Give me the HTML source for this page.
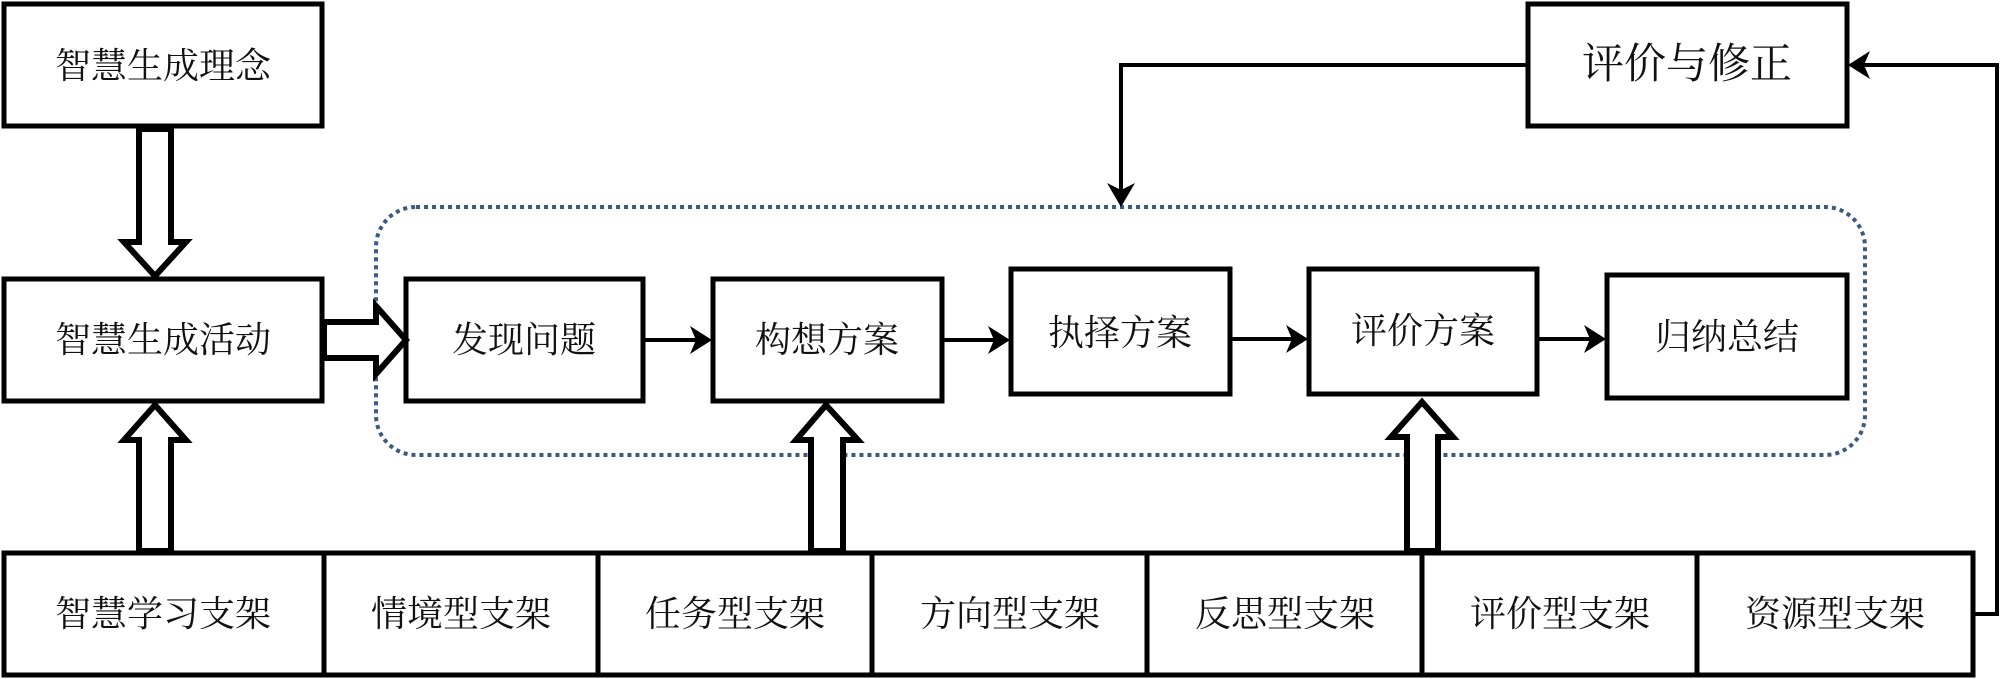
<!DOCTYPE html>
<html><head><meta charset="utf-8"><style>
html,body{margin:0;padding:0;background:#fff;}
svg{display:block;}
text{font-family:"Liberation Serif","Noto Serif CJK SC",serif;font-size:36px;fill:#111;text-anchor:middle;dominant-baseline:central;}
</style></head><body>
<svg width="2000" height="679" viewBox="0 0 2000 679">
<g fill="#fff" stroke="#000" stroke-width="5">
<rect x="4" y="4" width="318" height="122"/>
<rect x="4" y="279" width="318" height="122"/>
<rect x="406" y="279" width="237" height="122"/>
<rect x="713" y="279" width="229" height="122"/>
<rect x="1011" y="269" width="219" height="125"/>
<rect x="1309" y="269" width="228" height="125"/>
<rect x="1607" y="275" width="240" height="123"/>
<rect x="1528" y="4" width="319" height="122"/>
</g>
<rect x="376" y="207" width="1489" height="248" rx="40" fill="none" stroke="#3b5a80" stroke-width="4" stroke-dasharray="4 4"/>
<g fill="#fff" stroke="#000" stroke-width="5">
<rect x="4" y="553" width="1969" height="122"/>
<line x1="324" y1="553" x2="324" y2="675"/>
<line x1="598" y1="553" x2="598" y2="675"/>
<line x1="872" y1="553" x2="872" y2="675"/>
<line x1="1147" y1="553" x2="1147" y2="675"/>
<line x1="1422" y1="553" x2="1422" y2="675"/>
<line x1="1697" y1="553" x2="1697" y2="675"/>
</g>
<g fill="#fff" stroke="#000" stroke-width="6" stroke-linejoin="miter">
<polygon points="139,129 171,129 171,242 186,242 155,276 124,242 139,242"/>
<polygon points="139,551 171,551 171,440 186,440 155,405 124,440 139,440"/>
<polygon points="811,551 843,551 843,440 858,440 826,405 796,440 811,440"/>
<polygon points="1407,551 1438,551 1438,437 1453,437 1422,402 1391,437 1407,437"/>
<polygon points="324,322 376,322 376,306 406,340 376,374 376,358 324,358"/>
</g>
<g stroke="#000" stroke-width="4" fill="none">
<line x1="643" y1="340" x2="705" y2="340"/>
<line x1="942" y1="340" x2="1003" y2="340"/>
<line x1="1230" y1="339" x2="1301" y2="339"/>
<line x1="1537" y1="339" x2="1599" y2="339"/>
<polyline points="1973,614 1997,614 1997,65 1855,65"/>
<polyline points="1528,65 1121,65 1121,200"/>
</g>
<g fill="#000">
<polygon points="712,340 690,326 696,340 690,354"/>
<polygon points="1010,340 988,326 994,340 988,354"/>
<polygon points="1308,339 1286,325 1292,339 1286,353"/>
<polygon points="1606,339 1584,325 1590,339 1584,353"/>
<polygon points="1848,65 1870,51 1864,65 1870,79"/>
<polygon points="1121,207 1107,183 1121,190 1135,183"/>
</g>
<text x="163" y="66">智慧生成理念</text>
<text x="163" y="340">智慧生成活动</text>
<text x="524" y="340">发现问题</text>
<text x="827" y="340">构想方案</text>
<text x="1120" y="333">执择方案</text>
<text x="1423" y="331">评价方案</text>
<text x="1727" y="337">归纳总结</text>
<text x="1687" y="65" style="font-size:42px">评价与修正</text>
<text x="163" y="614">智慧学习支架</text>
<text x="461" y="614">情境型支架</text>
<text x="735" y="614">任务型支架</text>
<text x="1010" y="614">方向型支架</text>
<text x="1285" y="614">反思型支架</text>
<text x="1560" y="614">评价型支架</text>
<text x="1835" y="614">资源型支架</text>
</svg>
</body></html>
